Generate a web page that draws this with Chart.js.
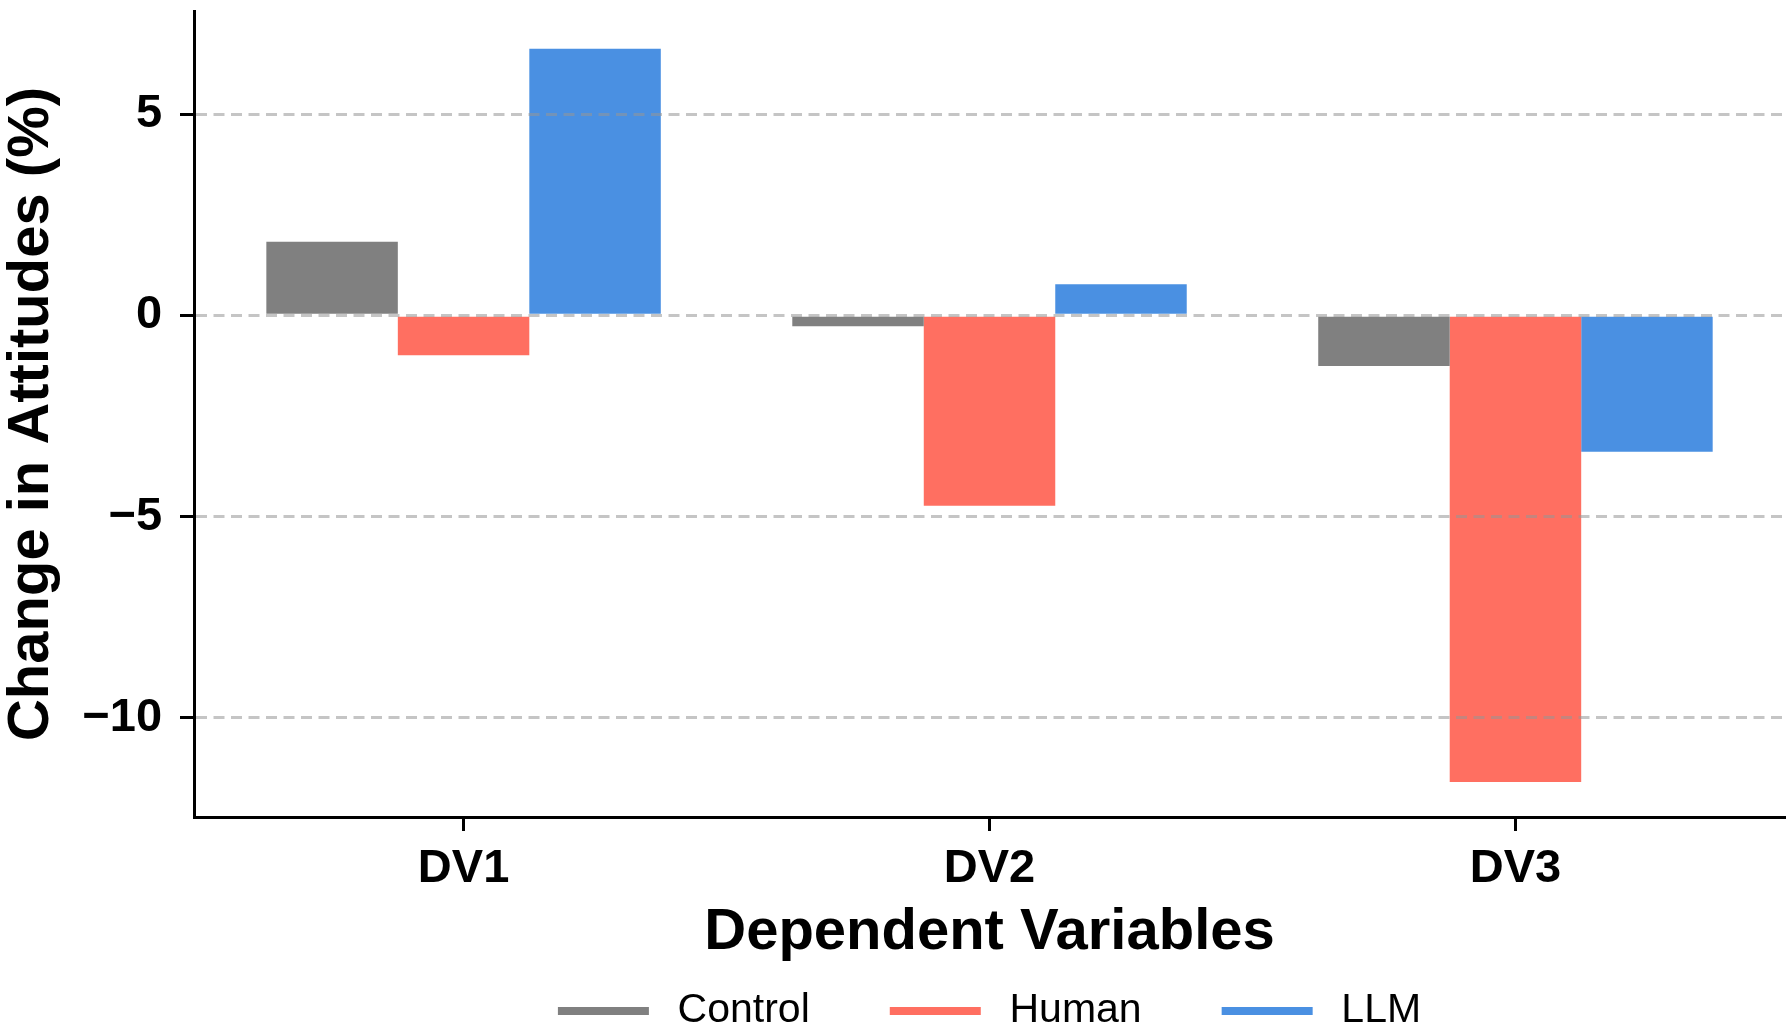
<!DOCTYPE html>
<html>
<head>
<meta charset="utf-8">
<title>Change in Attitudes</title>
<script src="https://cdn.jsdelivr.net/npm/chart.js@4.4.1/dist/chart.umd.min.js"></script>
<style>
    html, body { margin: 0; padding: 0; background: #fff; }
    #wrap { width: 1792px; height: 1031px; position: relative; }
</style>
</head>
<body>
<div id="wrap"><canvas id="chartAttitudes"></canvas></div>
<script>
// Datos
const categorias = ['DV1', 'DV2', 'DV3'];
const control = [1.83, -0.27, -1.26];
const human = [-0.99, -4.73, -11.59];
const llm = [6.62, 0.77, -3.39];
const yTicks = [-10, -5, 0, 5];

const FONT = "'Liberation Sans', Arial, Helvetica, sans-serif";

function formatTick(v) {
    // signo menos tipográfico como en el original
    return v < 0 ? '\u2212' + Math.abs(v) : String(v);
}

// cada barra en su posición de categoría (0, 1, 2) sobre un eje lineal
function toPoints(values) {
    return values.map((v, i) => ({ x: i, y: v }));
}

const ctx = document.getElementById('chartAttitudes');

const chartAttitudes = new Chart(ctx, {
    type: 'bar',
    data: {
        datasets: [
            { label: 'Control', data: toPoints(control), backgroundColor: '#808080', borderWidth: 0 },
            { label: 'Human', data: toPoints(human), backgroundColor: '#ff6f61', borderWidth: 0 },
            { label: 'LLM', data: toPoints(llm), backgroundColor: '#4a90e2', borderWidth: 0 }
        ]
    },
    options: {
        responsive: true,
        maintainAspectRatio: false,
        animation: false,
        devicePixelRatio: 1,
        datasets: {
            bar: { categoryPercentage: 0.75, barPercentage: 1.0 }
        },
        layout: {
            padding: { top: 11, right: 7, left: 0, bottom: -10.5 }
        },
        plugins: {
            tooltip: { enabled: false },
            legend: {
                position: 'bottom',
                fullSize: false,
                labels: {
                    boxWidth: 91,
                    boxHeight: 8,
                    padding: 80,
                    color: '#000',
                    font: { family: FONT, size: 41, weight: 'normal' },
                    generateLabels: function(chart) {
                        const items = Chart.defaults.plugins.legend.labels.generateLabels(chart);
                        return items.map(it => Object.assign(it, { text: '\u2009' + it.text, lineWidth: 0 }));
                    }
                }
            }
        },
        scales: {
            x: {
                type: 'linear',
                offset: false,
                min: -0.5125,
                max: 2.5125,
                afterBuildTicks: function(scale) {
                    scale.ticks = categorias.map((c, i) => ({ value: i }));
                },
                afterFit: function(scale) {
                    scale.paddingLeft = 0;
                    scale.paddingRight = 0;
                },
                grid: {
                    display: true,
                    offset: false,
                    drawOnChartArea: false,
                    drawTicks: true,
                    tickLength: 14,
                    tickColor: '#000',
                    tickWidth: 3
                },
                border: { display: true, color: '#000', width: 3 },
                ticks: {
                    color: '#000',
                    padding: 10,
                    font: { family: FONT, size: 47, weight: 'bold' },
                    callback: function(value) { return categorias[value]; }
                },
                title: {
                    display: true,
                    text: 'Dependent Variables',
                    color: '#000',
                    padding: { top: -9.2, bottom: -57.3 },
                    font: { family: FONT, size: 58, weight: 'bold' }
                }
            },
            y: {
                min: -12.46,
                max: 7.56,
                afterBuildTicks: function(scale) {
                    scale.ticks = yTicks.map(v => ({ value: v }));
                },
                afterFit: function(scale) {
                    scale.paddingTop = 0;
                    scale.paddingBottom = 0;
                },
                grid: {
                    color: 'rgba(150,150,150,0.55)',
                    lineWidth: 3,
                    drawTicks: true,
                    tickLength: 14,
                    tickColor: '#000',
                    tickWidth: 3,
                    tickBorderDash: [],
                    z: 1
                },
                border: { display: true, color: '#000', width: 3, dash: [11, 6.5], z: 2 },
                ticks: {
                    color: '#000',
                    padding: 18,
                    font: { family: FONT, size: 47, weight: 'bold' },
                    callback: function(value) { return formatTick(value); }
                },
                title: {
                    display: true,
                    text: 'Change in Attitudes (%)',
                    color: '#000',
                    padding: { top: -2.8, bottom: -2.5 },
                    font: { family: FONT, size: 58, weight: 'bold' }
                }
            }
        }
    }
});
</script>
</body>
</html>
